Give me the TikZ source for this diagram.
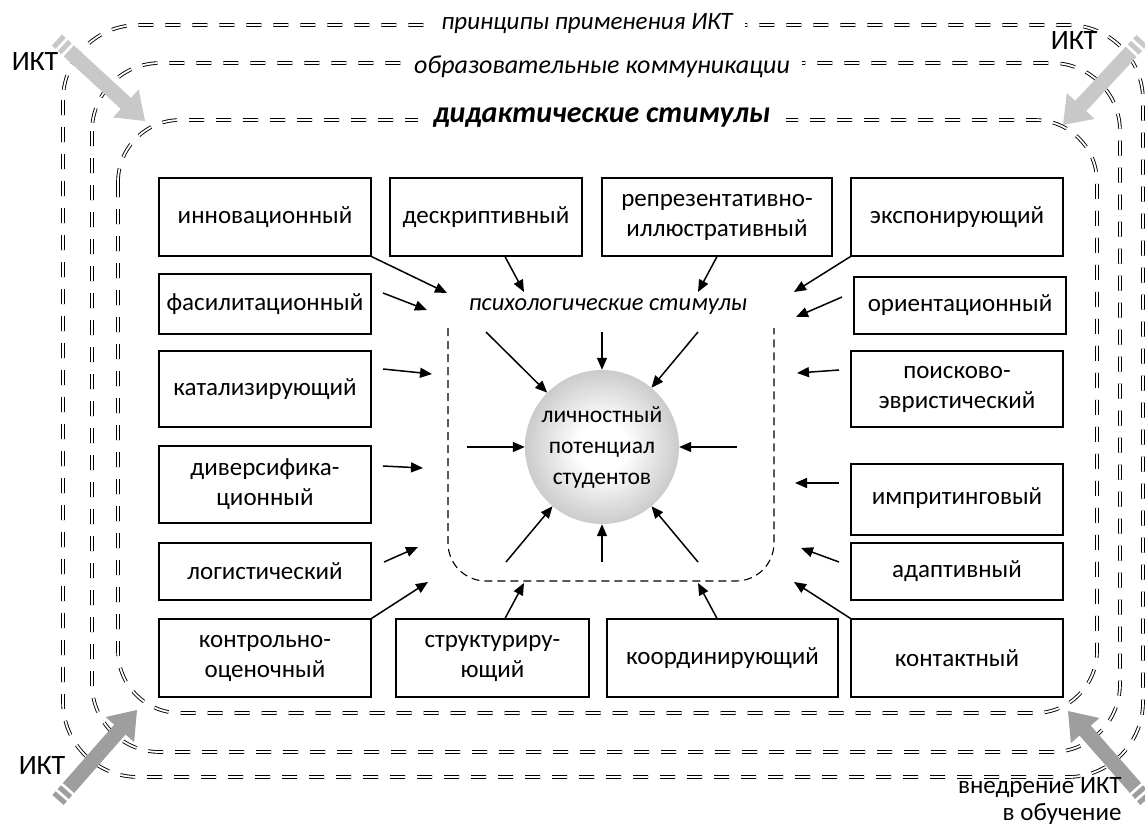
\documentclass[tikz,border=0pt]{standalone}
\usepackage{fontspec}
\setmainfont{Carlito}
\usetikzlibrary{calc,arrows.meta}
\pgfdeclareradialshading{sphereshade}{\pgfpoint{0bp}{0bp}}{color(0bp)=(white); color(8bp)=(white); color(50bp)=(black!50)}
\definecolor{iktlight}{HTML}{C8C8C8}
\definecolor{iktdark}{HTML}{9E9E9E}
\newcommand\iktarr[3]{%
  \fill[#1] ($(#2)!0pt!(#3)!7.5pt!90:(#3)$) -- ($(#2)!0pt!(#3)!7.5pt!-90:(#3)$) -- ($(#2)!5pt!(#3)!7.5pt!-90:(#3)$) -- ($(#2)!5pt!(#3)!7.5pt!90:(#3)$) -- cycle;
  \fill[#1] ($(#2)!8pt!(#3)!7.5pt!90:(#3)$) -- ($(#2)!8pt!(#3)!7.5pt!-90:(#3)$) -- ($(#2)!13pt!(#3)!7.5pt!-90:(#3)$) -- ($(#2)!13pt!(#3)!7.5pt!90:(#3)$) -- cycle;
  \fill[#1] ($(#2)!16pt!(#3)!7.5pt!90:(#3)$) -- ($(#3)!26pt!(#2)!7.5pt!-90:(#2)$) -- ($(#3)!26pt!(#2)!19pt!-90:(#2)$) -- (#3) -- ($(#3)!26pt!(#2)!19pt!90:(#2)$) -- ($(#3)!26pt!(#2)!7.5pt!90:(#2)$) -- ($(#2)!16pt!(#3)!7.5pt!-90:(#3)$) -- cycle;
}
\tikzset{
  box/.style={draw, line width=1.2pt, inner sep=0pt, align=center, font=\fontsize{25}{30}\selectfont},
  arr/.style={line width=1.5pt, -{Triangle[length=12pt,width=10pt]}},
  frame/.style={double, double distance=1.8pt, line width=0.9pt, dash pattern=on 15pt off 12pt},
  ftext/.style={fill=white, inner xsep=12pt, inner ysep=2pt, font=\fontsize{25}{28}\selectfont\itshape},
  ikt/.style={font=\fontsize{28}{30}\selectfont, align=right},
}
\begin{document}
\begin{tikzpicture}[x=1pt,y=-1pt]
\useasboundingbox (0,0) rectangle (1145,828);
% frames
\draw[frame, rounded corners=75pt] (63,25) rectangle (1143,777);
\draw[frame, rounded corners=68pt] (92,63) rectangle (1120,752);
\draw[frame, rounded corners=62pt] (118,120) rectangle (1097,713);
\node[ftext] (t1) at (587,24) {принципы применения ИКТ};
\node[ftext, font=\fontsize{26}{28}\selectfont\itshape] (t2) at (602,67) {образовательные коммуникации};
\node[ftext, inner xsep=16pt, font=\fontsize{30}{32}\selectfont\bfseries\itshape] (t3) at (602,118) {дидактические стимулы};
% ICT arrows
\coordinate (tlA) at (57,40); \coordinate (tlB) at (145,121);
\coordinate (trA) at (1142,40); \coordinate (trB) at (1063,125);
\coordinate (blA) at (58,800); \coordinate (blB) at (137,710);
\coordinate (brA) at (1146,800); \coordinate (brB) at (1068,711);
\iktarr{iktlight}{tlA}{tlB}
\iktarr{iktlight}{trA}{trB}
\iktarr{iktdark}{blA}{blB}
\iktarr{iktdark}{brA}{brB}
\node[ikt] (ik1) at (35,62) {ИКТ};
\node[ikt] (ik2) at (1074,41) {ИКТ};
\node[ikt] (ik3) at (42,766) {ИКТ};
\node[ikt, anchor=east, font=\fontsize{25}{27}\selectfont] (ik4) at (1125,801) {внедрение ИКТ\\в обучение};
% boxes
\node[box, minimum width=212pt, minimum height=78pt] (inn) at (265,217) {инновационный};
\node[box, minimum width=192pt, minimum height=78pt] (desc) at (486,217) {дескриптивный};
\node[box, minimum width=230pt, minimum height=78pt] (repr) at (717,217) {репрезентативно-\\иллюстративный};
\node[box, minimum width=212pt, minimum height=78pt] (expo) at (957,217) {экспонирующий};
\node[box, minimum width=212pt, minimum height=60pt] (fas) at (265,304) {фасилитационный};
\node[box, minimum width=212pt, minimum height=76pt] (kat) at (265,389) {катализирующий};
\node[box, minimum width=212pt, minimum height=77pt] (div) at (265,484.5) {диверсифика-\\ционный};
\node[box, minimum width=212pt, minimum height=57pt] (log) at (265,571.5) {логистический};
\node[box, minimum width=212pt, minimum height=78pt] (kontr) at (265,658) {контрольно-\\оценочный};
\node[box, minimum width=193pt, minimum height=78pt] (str) at (492.5,658) {структуриру-\\ющий};
\node[box, minimum width=231pt, minimum height=78pt] (koord) at (722.5,658) {координирующий};
\node[box, minimum width=212pt, minimum height=78pt] (kont) at (957,658) {контактный};
\node[box, minimum width=212pt, minimum height=57pt] (orient) at (960,305.5) {ориентационный};
\node[box, minimum width=212pt, minimum height=76pt] (poisk) at (957,389) {поисково-\\эвристический};
\node[box, minimum width=212pt, minimum height=71pt] (impr) at (957,499.5) {\raisebox{7pt}{импритинговый}};
\node[box, minimum width=212pt, minimum height=57pt] (adapt) at (957,571.5) {адаптивный};
% psychological frame
\draw[line width=1.1pt, dash pattern=on 8pt off 5pt, rounded corners=38pt] (448,328) -- (448,581) -- (774,581) -- (774,328);
\node[font=\fontsize{24.5}{28}\selectfont\itshape] (psy) at (608,307) {психологические стимулы};
\node[circle, minimum size=154pt, inner sep=0pt, shading=sphereshade, align=center, font=\fontsize{23.5}{31}\selectfont] (pot) at (602,447) {личностный\\потенциал\\студентов};
% arrows into psychological frame
\coordinate (e1) at (447,293); \draw[arr] (inn.south east) -- (e1);
\coordinate (e2) at (524,292); \draw[arr] (desc.south -| 505,0) -- (e2);
\coordinate (e3) at (698,292); \draw[arr] (repr.south -| 717,0) -- (e3);
\coordinate (e4) at (794,292); \draw[arr] (expo.south west) -- (e4);
\coordinate (s5) at (383,293); \coordinate (e5) at (427,310); \draw[arr] (s5) -- (e5);
\coordinate (s6) at (383,369); \coordinate (e6) at (432,374); \draw[arr] (s6) -- (e6);
\coordinate (s7) at (383,466); \coordinate (e7) at (423,468); \draw[arr] (s7) -- (e7);
\coordinate (s8) at (384,562); \coordinate (e8) at (418,547); \draw[arr] (s8) -- (e8);
\coordinate (e9) at (428,582); \draw[arr] (kontr.north east) -- (e9);
\coordinate (e10) at (524,583); \draw[arr] (str.north -| 505,0) -- (e10);
\coordinate (e11) at (698,583); \draw[arr] (koord.north -| 717,0) -- (e11);
\coordinate (e12) at (794,582); \draw[arr] (kont.north west) -- (e12);
\coordinate (s13) at (842,297); \coordinate (e13) at (796,317); \draw[arr] (s13) -- (e13);
\coordinate (s14) at (839,370); \coordinate (e14) at (797,373); \draw[arr] (s14) -- (e14);
\coordinate (s15) at (839,483); \coordinate (e15) at (795,483); \draw[arr] (s15) -- (e15);
\coordinate (s16) at (839,562); \coordinate (e16) at (801,548); \draw[arr] (s16) -- (e16);
% arrows to the centre
\coordinate (c1) at (486,332); \draw[arr] (c1) -- (pot);
\coordinate (c2) at (602,332); \draw[arr] (c2) -- (pot);
\coordinate (c3) at (698,332); \draw[arr] (c3) -- (pot);
\coordinate (c4) at (467,447); \draw[arr] (c4) -- (pot);
\coordinate (c5) at (737,447); \draw[arr] (c5) -- (pot);
\coordinate (c6) at (506,562); \draw[arr] (c6) -- (pot);
\coordinate (c7) at (602,562); \draw[arr] (c7) -- (pot);
\coordinate (c8) at (698,562); \draw[arr] (c8) -- (pot);
\end{tikzpicture}
\end{document}
